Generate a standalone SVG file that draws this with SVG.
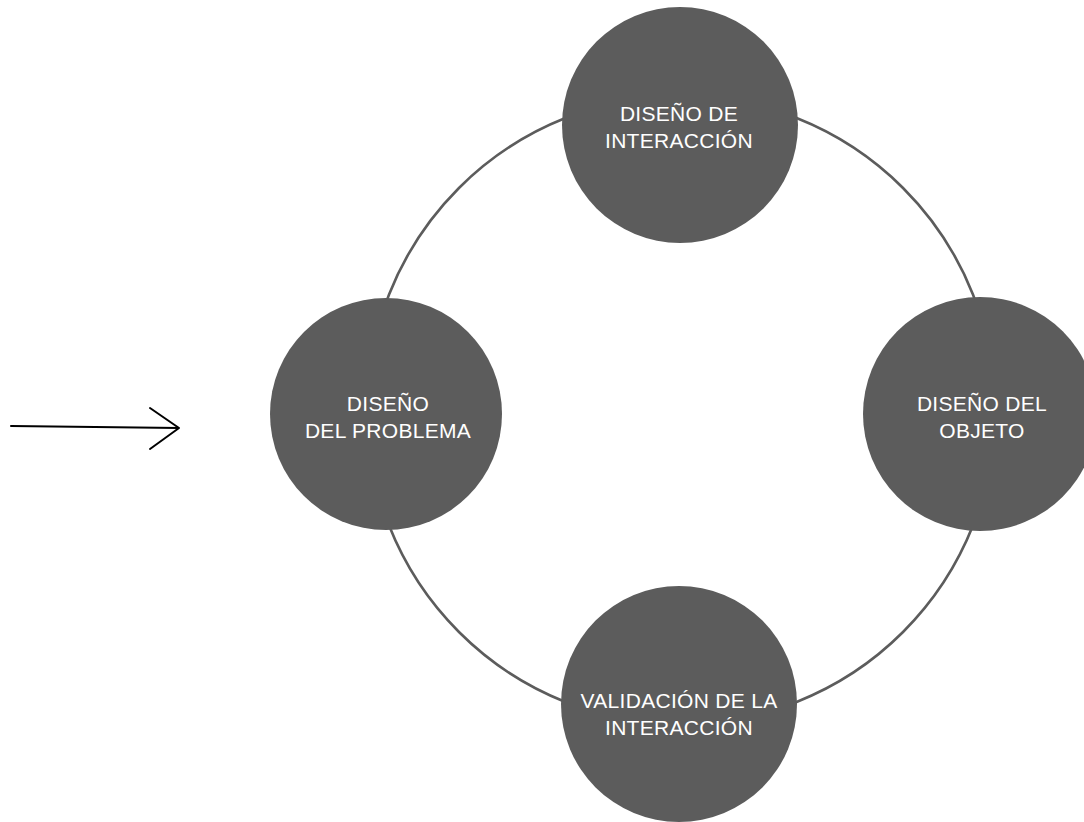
<svg xmlns="http://www.w3.org/2000/svg" width="1084" height="822" viewBox="0 0 1084 822">
  <style>
    .ring { fill: none; stroke: #5c5c5c; stroke-width: 2.6; }
    .node { fill: #5c5c5c; }
    .label { fill: #ffffff; font-family: "Liberation Sans", Arial, Helvetica, sans-serif; font-size: 21px; letter-spacing: 0.3px; text-anchor: middle; }
    .entry { fill: none; stroke: #000000; stroke-width: 2; stroke-linecap: round; stroke-linejoin: round; }
  </style>
  <rect width="1084" height="822" fill="#ffffff"/>

  <!-- cycle connecting the four stages -->
  <g id="connectors">
    <circle class="ring" cx="681" cy="410" r="314"/>
    <path class="entry" d="M11 426 L179 428 M150 408 L179 428 L150 449"/>
  </g>

  <g id="node-interaccion">
    <circle class="node" cx="680" cy="125" r="118"/>
    <text class="label" x="679" y="121">DISEÑO DE</text>
    <text class="label" x="679" y="148">INTERACCIÓN</text>
  </g>

  <g id="node-problema">
    <circle class="node" cx="386" cy="414" r="116"/>
    <text class="label" x="388" y="411">DISEÑO</text>
    <text class="label" x="388" y="438">DEL PROBLEMA</text>
  </g>

  <g id="node-objeto">
    <circle class="node" cx="980" cy="414" r="117"/>
    <text class="label" x="982" y="411">DISEÑO DEL</text>
    <text class="label" x="982" y="438">OBJETO</text>
  </g>

  <g id="node-validacion">
    <circle class="node" cx="679" cy="704" r="118"/>
    <text class="label" x="679" y="708">VALIDACIÓN DE LA</text>
    <text class="label" x="679" y="735">INTERACCIÓN</text>
  </g>
</svg>
